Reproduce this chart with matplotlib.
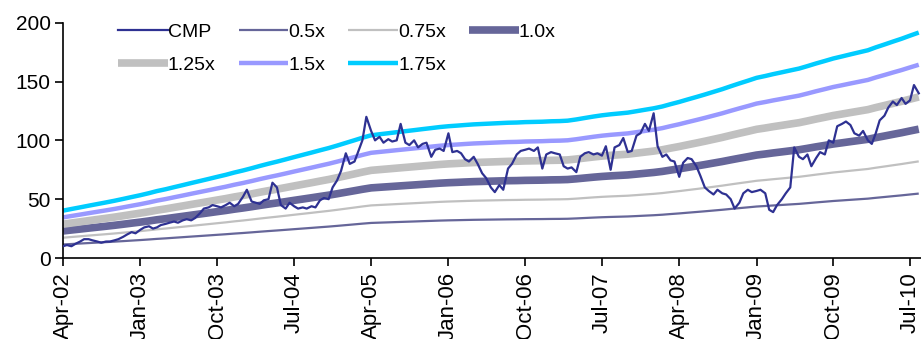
import matplotlib
matplotlib.use("Agg")
import matplotlib.pyplot as plt
import matplotlib.dates as mdates
import numpy as np
import pandas as pd

plt.rcParams['font.family'] = ['Liberation Sans', 'DejaVu Sans']

# Share price (CMP), sampled on the 1st and 15th of each month from Apr-2002
cmp_values = [
    10, 11, 10, 12, 14, 16, 16, 15, 14, 13, 14, 14,
    15, 16, 18, 20, 22, 21, 24, 26, 27, 25, 26, 28,
    29, 30, 31, 30, 32, 33, 32, 34, 38, 42, 43, 45,
    44, 43, 45, 47, 44, 46, 52, 58, 48, 47, 46, 49,
    50, 64, 60, 45, 42, 47, 44, 42, 43, 42, 44, 43,
    49, 51, 50, 60, 66, 74, 89, 80, 82, 91, 100, 120,
    108, 100, 103, 98, 101, 99, 100, 114, 98, 96, 100, 94,
    97, 98, 86, 92, 93, 91, 106, 90, 91, 89, 84, 82,
    86, 80, 72, 68, 60, 56, 62, 58, 76, 80, 88, 91,
    92, 93, 91, 94, 76, 88, 90, 89, 88, 78, 76, 77,
    73, 86, 89, 90, 88, 89, 87, 95, 75, 94, 96, 102,
    90, 91, 104, 106, 114, 108, 123, 95, 86, 88, 83, 82,
    69, 81, 85, 84, 78, 70, 60, 57, 54, 58, 55, 54,
    50, 42, 47, 55, 58, 56, 57, 58, 55, 41, 39, 45,
    50, 55, 60, 94, 86, 84, 88, 78, 85, 90, 88, 100,
    98, 112, 114, 116, 113, 106, 104, 108, 100, 97, 106, 117,
    121, 128, 133, 130, 136, 131, 134, 147, 140,
]

# Book value per share, month starts from Apr-2002 to Aug-2010
bv_values = [
    23.0, 23.8, 24.6, 25.4, 26.2, 27.0, 27.8, 28.7, 29.6, 30.5,
    31.5, 32.5, 33.4, 34.4, 35.4, 36.4, 37.4, 38.4, 39.4, 40.4,
    41.5, 42.5, 43.6, 44.7, 45.8, 46.8, 47.9, 49.0, 50.1, 51.2,
    52.3, 53.4, 54.6, 55.9, 57.2, 58.4, 59.6, 60.1, 60.6, 61.1,
    61.6, 62.1, 62.6, 63.1, 63.6, 64.0, 64.3, 64.6, 64.9, 65.1,
    65.3, 65.5, 65.7, 65.8, 66.0, 66.1, 66.2, 66.4, 66.5, 66.7,
    67.3, 68.0, 68.7, 69.3, 69.8, 70.2, 70.6, 71.3, 72.0, 72.7,
    73.6, 74.7, 75.8, 77.0, 78.2, 79.4, 80.7, 82.0, 83.4, 84.8,
    86.1, 87.5, 88.4, 89.3, 90.2, 91.1, 92.0, 93.2, 94.5, 95.7,
    96.9, 97.9, 98.9, 99.9, 100.9, 102.3, 103.7, 105.1, 106.5, 108.0,
    109.5,
]

multiples = [0.5, 0.75, 1.0, 1.25, 1.5, 1.75]
band_labels = ['0.5x', '0.75x', '1.0x', '1.25x', '1.5x', '1.75x']
band_colors = ['#666699', '#C0C0C0', '#666699', '#C0C0C0', '#9999FF', '#00CCFF']
band_widths = [1.6, 1.6, 5.5, 5.5, 3.2, 3.2]

cmp_dates = pd.date_range('2002-04-01', periods=len(cmp_values), freq='SMS')
bv_dates = pd.date_range('2002-04-01', periods=len(bv_values), freq='MS')
bv = np.array(bv_values)

fig = plt.figure(figsize=(9.21, 3.39), dpi=100)
ax = fig.add_axes([63 / 921, 81 / 339, 1 - 63 / 921, (258 - 22.7) / 339])

handles = {}
for m, lab, col, lw in zip(multiples, band_labels, band_colors, band_widths):
    h, = ax.plot(bv_dates, bv * m, color=col, lw=lw, solid_capstyle='butt', zorder=2)
    handles[lab] = h
h, = ax.plot(cmp_dates, cmp_values, color='#2E3192', lw=1.6, zorder=3)
handles['CMP'] = h

order = ['CMP', '1.25x', '0.5x', '1.5x', '0.75x', '1.75x', '1.0x']
ax.legend([handles[k] for k in order], order, ncol=4, frameon=False,
          loc='upper left', bbox_to_anchor=(0.055, 1.03), fontsize=14,
          handlelength=2.55, handletextpad=0.0, columnspacing=1.2,
          labelspacing=0.8, borderaxespad=0)

ax.set_ylim(0, 200)
ax.set_yticks([0, 50, 100, 150, 200])
ax.set_xlim(pd.Timestamp('2002-04-01'), pd.Timestamp('2010-08-09'))
ax.set_xticks(pd.date_range('2002-04-01', '2010-07-01', freq='9MS'))
ax.xaxis.set_major_formatter(mdates.DateFormatter('%b-%y'))
for lbl in ax.get_xticklabels():
    lbl.set_rotation(90)

for s in ['top', 'right']:
    ax.spines[s].set_visible(False)
for s in ['left', 'bottom']:
    ax.spines[s].set_linewidth(1.2)
ax.tick_params(axis='both', direction='out', length=6, width=1.2, labelsize=15)
ax.tick_params(axis='x', pad=4, labelsize=16)
ax.tick_params(axis='y', pad=3)

fig.savefig('out.png', dpi=100)
